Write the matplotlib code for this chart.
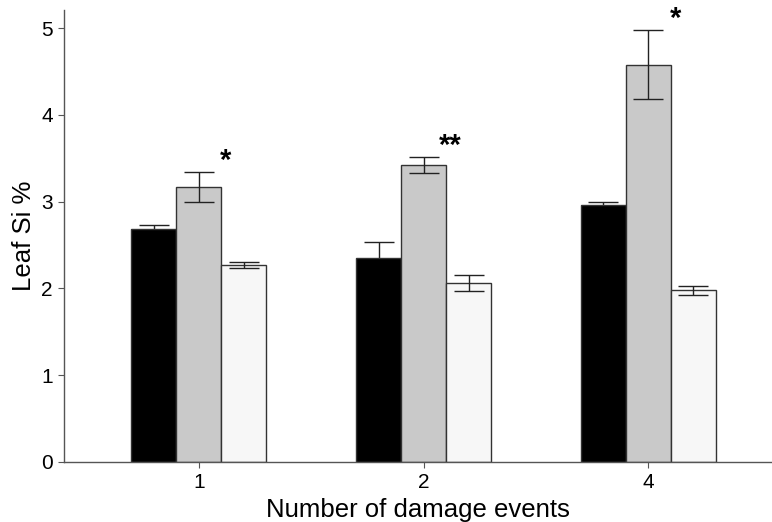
import numpy as np
import matplotlib
matplotlib.use("Agg")
import matplotlib.pyplot as plt

plt.rcParams['font.family'] = ['Liberation Sans', 'DejaVu Sans']

# data
groups = ["1", "2", "4"]
black_mean = [2.69, 2.35, 2.96]
black_se = [0.04, 0.18, 0.04]
grey_mean = [3.17, 3.42, 4.58]
grey_se = [0.17, 0.09, 0.40]
white_mean = [2.27, 2.06, 1.98]
white_se = [0.04, 0.09, 0.05]
stars = ["*", "**", "*"]

fig = plt.figure(figsize=(7.72, 5.22), dpi=100)
ax = fig.add_axes([0.083, 0.115, 0.917, 0.866])

x = np.arange(1, len(groups) + 1)
w = 0.2
series = [(black_mean, black_se, "black", 1),
          (grey_mean, grey_se, "#c9c9c9", 3),
          (white_mean, white_se, "#f7f7f7", 3)]
for k, (m, s, c, ez) in enumerate(series):
    pos = x + (k - 1) * w
    ax.bar(pos, m, w, color=c, edgecolor="#333333", linewidth=1, zorder=2)
    ax.errorbar(pos, m, yerr=s, fmt="none", ecolor="#222222", elinewidth=1,
                capsize=10.5, capthick=1, zorder=ez)

# significance stars beside the grey bars
for i, lab in enumerate(stars):
    ax.annotate(lab, xy=(x[i] + 0.12, grey_mean[i] + grey_se[i]),
                xytext=(0, 8), textcoords="offset points",
                ha="center", va="center", fontsize=21, fontweight="bold")

ax.set_xlim(0.4, 3.55)
ax.set_ylim(0, 5.21)
ax.set_xticks(x)
ax.set_xticklabels(groups)
ax.set_yticks(range(0, 6))
ax.set_xlabel("Number of damage events", fontsize=18.5, labelpad=4)
ax.set_ylabel("Leaf Si %", fontsize=18.5, labelpad=4)
ax.tick_params(labelsize=15, length=4, color="#555555", pad=4)
for sp in ["top", "right"]:
    ax.spines[sp].set_visible(False)
for sp in ["left", "bottom"]:
    ax.spines[sp].set_color("#555555")
    ax.spines[sp].set_linewidth(1)

fig.savefig("out.png", dpi=100)
